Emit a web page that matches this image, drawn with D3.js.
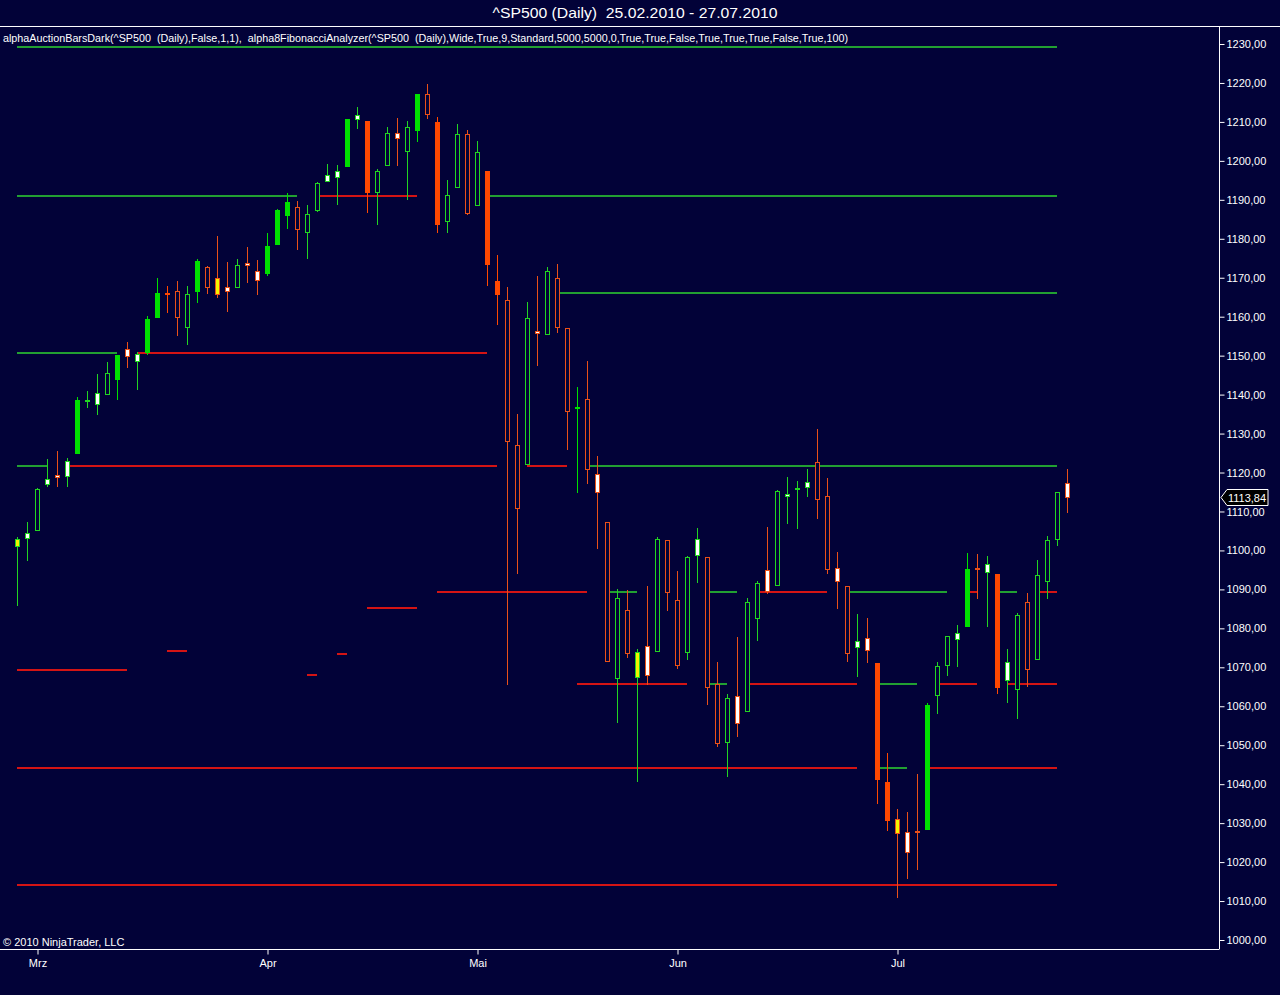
<!DOCTYPE html>
<html><head><meta charset="utf-8">
<script src="https://cdn.jsdelivr.net/npm/d3@7/dist/d3.min.js"></script>
<style>html,body{margin:0;padding:0;background:#020238;}svg{display:block;}text{white-space:pre;}</style>
</head><body>
<svg id="c" width="1280" height="995"></svg>
<script>
// ---------- DATA ----------
const dates = ["2010-02-25","2010-02-26","2010-03-01","2010-03-02","2010-03-03","2010-03-04","2010-03-05","2010-03-08","2010-03-09","2010-03-10","2010-03-11","2010-03-12","2010-03-15","2010-03-16","2010-03-17","2010-03-18","2010-03-19","2010-03-22","2010-03-23","2010-03-24","2010-03-25","2010-03-26","2010-03-29","2010-03-30","2010-03-31","2010-04-01","2010-04-05","2010-04-06","2010-04-07","2010-04-08","2010-04-09","2010-04-12","2010-04-13","2010-04-14","2010-04-15","2010-04-16","2010-04-19","2010-04-20","2010-04-21","2010-04-22","2010-04-23","2010-04-26","2010-04-27","2010-04-28","2010-04-29","2010-04-30","2010-05-03","2010-05-04","2010-05-05","2010-05-06","2010-05-07","2010-05-10","2010-05-11","2010-05-12","2010-05-13","2010-05-14","2010-05-17","2010-05-18","2010-05-19","2010-05-20","2010-05-21","2010-05-24","2010-05-25","2010-05-26","2010-05-27","2010-05-28","2010-06-01","2010-06-02","2010-06-03","2010-06-04","2010-06-07","2010-06-08","2010-06-09","2010-06-10","2010-06-11","2010-06-14","2010-06-15","2010-06-16","2010-06-17","2010-06-18","2010-06-21","2010-06-22","2010-06-23","2010-06-24","2010-06-25","2010-06-28","2010-06-29","2010-06-30","2010-07-01","2010-07-02","2010-07-06","2010-07-07","2010-07-08","2010-07-09","2010-07-12","2010-07-13","2010-07-14","2010-07-15","2010-07-16","2010-07-19","2010-07-20","2010-07-21","2010-07-22","2010-07-23","2010-07-26","2010-07-27"];
const open = [1101.24,1103.10,1105.36,1117.01,1119.36,1119.12,1125.12,1138.40,1137.56,1140.22,1143.96,1151.71,1148.53,1150.83,1159.94,1166.13,1166.68,1157.25,1166.47,1172.70,1170.03,1167.58,1167.71,1173.75,1171.75,1171.23,1178.71,1186.01,1188.23,1181.75,1187.47,1194.94,1195.94,1198.69,1210.77,1210.17,1192.06,1199.04,1207.16,1202.52,1207.87,1217.07,1209.92,1184.59,1193.30,1206.77,1188.58,1197.50,1169.24,1164.38,1127.04,1122.27,1156.39,1155.43,1170.04,1157.19,1136.52,1138.78,1119.57,1107.34,1067.26,1084.78,1067.42,1075.51,1074.27,1102.59,1087.30,1073.89,1098.82,1098.43,1065.84,1050.81,1062.75,1058.77,1082.65,1095.00,1091.21,1114.02,1115.98,1116.16,1122.79,1113.90,1095.57,1090.93,1075.10,1077.50,1071.10,1040.56,1031.10,1027.65,1028.09,1028.54,1062.92,1070.50,1077.23,1080.65,1095.61,1094.46,1093.85,1066.85,1064.53,1086.67,1072.14,1092.17,1102.89,1117.36];
const high = [1103.50,1107.24,1116.11,1123.46,1125.64,1123.73,1139.38,1141.05,1145.37,1148.26,1150.24,1153.41,1150.98,1160.28,1169.84,1167.77,1169.20,1167.82,1174.72,1173.04,1180.69,1173.93,1174.85,1177.83,1174.56,1181.43,1187.73,1191.80,1189.60,1188.55,1194.66,1199.20,1199.04,1210.65,1213.92,1210.17,1197.87,1208.58,1210.99,1210.27,1217.28,1219.80,1211.38,1195.05,1209.36,1207.99,1205.13,1197.50,1175.95,1167.58,1135.13,1163.85,1170.48,1172.87,1173.57,1157.19,1141.88,1148.66,1124.27,1107.34,1090.16,1089.95,1074.75,1090.75,1103.52,1102.59,1094.77,1098.56,1105.67,1098.43,1071.36,1063.15,1077.74,1087.85,1092.25,1105.91,1115.59,1118.74,1117.72,1121.01,1131.23,1118.50,1099.64,1090.93,1083.56,1082.60,1071.10,1048.08,1033.58,1032.95,1042.50,1060.89,1071.25,1078.16,1080.78,1099.46,1099.08,1098.66,1093.85,1074.70,1083.94,1088.96,1097.50,1103.73,1115.01,1120.95];
const low = [1086.02,1097.56,1105.36,1116.51,1116.58,1116.66,1125.12,1136.77,1134.90,1140.09,1138.99,1146.97,1141.45,1150.35,1159.94,1161.16,1155.33,1152.88,1163.83,1166.01,1165.09,1161.48,1167.71,1168.92,1165.77,1170.69,1178.71,1182.77,1177.25,1175.12,1187.15,1194.71,1188.82,1198.69,1208.50,1186.77,1183.68,1199.04,1198.85,1190.19,1205.10,1211.07,1181.62,1181.81,1193.30,1186.32,1188.58,1168.12,1158.15,1065.79,1094.15,1122.27,1147.71,1155.43,1156.14,1126.14,1114.96,1117.20,1100.66,1071.58,1055.90,1072.70,1040.78,1065.59,1074.27,1084.78,1069.89,1072.03,1091.81,1060.50,1049.86,1042.17,1052.25,1058.77,1077.12,1089.03,1091.21,1107.13,1105.87,1113.93,1108.24,1094.18,1085.31,1071.60,1067.89,1071.45,1035.18,1028.33,1010.91,1015.93,1018.35,1028.54,1058.24,1068.10,1070.45,1080.65,1087.68,1080.53,1063.32,1061.11,1056.88,1065.25,1072.14,1087.88,1101.30,1109.78];
const close = [1102.94,1104.49,1115.71,1118.31,1118.79,1122.97,1138.70,1138.50,1140.45,1145.61,1150.24,1149.99,1150.51,1159.46,1166.21,1165.83,1159.90,1165.81,1174.17,1167.72,1165.73,1166.59,1173.22,1173.27,1169.43,1178.10,1187.44,1189.44,1182.45,1186.44,1194.37,1196.48,1197.30,1210.65,1211.67,1192.13,1197.52,1207.17,1205.94,1208.67,1217.28,1212.05,1183.71,1191.36,1206.78,1186.69,1202.26,1173.60,1165.90,1128.15,1110.88,1159.73,1155.79,1171.67,1157.44,1135.68,1136.94,1120.80,1115.05,1071.59,1087.69,1073.65,1074.03,1067.95,1103.06,1089.41,1070.71,1098.38,1102.83,1064.88,1050.47,1062.00,1055.69,1086.84,1091.60,1089.63,1115.23,1114.61,1116.04,1117.51,1113.20,1095.31,1092.04,1073.69,1076.76,1074.57,1041.24,1030.71,1027.37,1022.58,1028.06,1060.27,1070.25,1077.96,1078.75,1095.34,1095.17,1096.48,1064.88,1071.25,1083.48,1069.59,1093.67,1102.66,1115.01,1113.84];
// bar paint type from the auction-bar indicator: S solid, H hollow, W white, Y yellow
const barType = "YWHWWWSWWHSWWSSSHHSHYWHWWSSSHHHWWSWSHHWHSHSHHHHSSHHHWHHHSHWHHHYWHHHHWHHHWHHWHWWWHHWHWWSSYWWSHHWSWWSWHHHHHW".split("");
const monthLabels = ["Mrz","Apr","Mai","Jun","Jul"];
const yTicks = d3.range(1000, 1231, 10);
const lastPrice = 1113.84;
// Fibonacci analyzer level segments: value, first bar, last bar, colour key
const fibValue = [1229.2,1191.0,1191.0,1191.0,1166.1,1150.7,1150.7,1121.7,1121.7,1121.7,1121.7,1089.3,1089.3,1089.3,1089.3,1089.3,1089.3,1089.3,1089.3,1085.2,1074.1,1073.5,1069.2,1067.9,1065.7,1065.7,1065.7,1065.7,1065.7,1065.7,1044.2,1044.2,1044.2,1014.1];
const fibFrom  = [0,0,30,47,54,0,12,0,5,51,57,42,59,69,74,83,95,98,102,35,15,32,0,29,56,69,73,86,92,99,0,86,91,0];
const fibTo    = [104,28,40,104,104,10,47,3,48,55,104,57,62,72,81,93,96,100,104,40,17,33,11,30,67,71,84,90,96,104,84,89,104,104];
const fibKind  = ["g","g","r","g","g","g","r","g","r","r","g","r","g","g","r","g","r","g","r","r","r","r","r","r","r","g","r","g","r","r","r","g","r","r"];
const title = "^SP500 (Daily)  25.02.2010 - 27.07.2010";
const indicatorText = "alphaAuctionBarsDark(^SP500  (Daily),False,1,1),  alpha8FibonacciAnalyzer(^SP500  (Daily),Wide,True,9,Standard,5000,5000,0,True,True,False,True,True,True,False,True,100)";
const copyright = "© 2010 NinjaTrader, LLC";

// ---------- STYLE ----------
const BG = "#020238";
const GREEN_LINE = "#22d422", GREEN_SOLID = "#00e000";
const ORANGE_LINE = "#ea5018", ORANGE_SOLID = "#ff4800";
const FIB_G = "#22a032", FIB_R = "#d41414";
const FONT = "'Liberation Sans', Arial, sans-serif";

const svg = d3.select("#c");
svg.append("rect").attr("width",1280).attr("height",995).attr("fill",BG);

const x = d3.scaleLinear().domain([0, dates.length - 1]).range([17, 17 + 10 * (dates.length - 1)]);
const y = d3.scaleLinear().domain([1000, 1230]).range([940, 44]);
const px = i => Math.round(x(i));
const py = v => Math.round(y(v));

// title & separator
svg.append("text").attr("x",635).attr("y",18).attr("text-anchor","middle")
  .attr("fill","#ffffff").attr("font-family",FONT).attr("font-size",15)
  .attr("textLength",285).attr("lengthAdjust","spacingAndGlyphs").text(title);
svg.append("line").attr("x1",0).attr("x2",1280).attr("y1",26.5).attr("y2",26.5).attr("stroke","#ffffff").attr("stroke-width",1);
svg.append("text").attr("x",3).attr("y",42).attr("fill","#ffffff").attr("font-family",FONT).attr("font-size",11)
  .attr("textLength",845).attr("lengthAdjust","spacingAndGlyphs").text(indicatorText);

// fib levels
const segs = fibValue.map((v,i)=>({v, a:fibFrom[i], b:fibTo[i], k:fibKind[i]}));
svg.append("g").selectAll("line").data(segs).join("line")
  .attr("x1",d=>px(d.a)).attr("x2",d=>px(d.b))
  .attr("y1",d=>py(d.v)).attr("y2",d=>py(d.v))
  .attr("stroke",d=>d.k==="g"?FIB_G:FIB_R).attr("stroke-width",2);

// candles
const bars = dates.map((d,i)=>({i, o:open[i], h:high[i], l:low[i], c:close[i], t:barType[i]}));
const cg = svg.append("g");
const edgeCol = d => d.t==="S" ? (d.c>=d.o?GREEN_SOLID:ORANGE_SOLID) : (d.c>=d.o?GREEN_LINE:ORANGE_LINE);
cg.selectAll("line.w").data(bars).join("line").attr("class","w")
  .attr("x1",d=>px(d.i)+0.5).attr("x2",d=>px(d.i)+0.5)
  .attr("y1",d=>py(d.h)).attr("y2",d=>py(d.l)+1)
  .attr("stroke",edgeCol).attr("stroke-width",1);
cg.selectAll("rect").data(bars).join("rect")
  .attr("x",d=>px(d.i)-1.5).attr("width",4)
  .attr("y",d=>py(Math.max(d.o,d.c))+0.5)
  .attr("height",d=>Math.max(1, py(Math.min(d.o,d.c)) - py(Math.max(d.o,d.c))))
  .attr("fill",d=>{
    const up = d.c>=d.o;
    if (d.t==="S") return up?GREEN_SOLID:ORANGE_SOLID;
    if (d.t==="W") return "#ffffff";
    if (d.t==="Y") return "#f4f400";
    return BG;
  })
  .attr("stroke",edgeCol).attr("stroke-width",1);

// right axis
const yAxis = d3.axisRight(y).tickValues(yTicks).tickSize(5).tickPadding(2)
  .tickFormat(v => d3.format(".2f")(v).replace(".", ","));
const ya = svg.append("g").attr("transform","translate(1219.5,0)").call(yAxis);
ya.select(".domain").attr("d","M0,27V949").attr("stroke","#ffffff");
ya.selectAll(".tick line").attr("stroke","#ffffff");
ya.selectAll(".tick text").attr("fill","#ffffff").attr("font-family",FONT).attr("font-size",11);

// bottom axis
const monthIdx = [];
dates.forEach((d,i)=>{ if (i>0 && d.slice(5,7)!==dates[i-1].slice(5,7)) monthIdx.push(i); });
const xAxis = d3.axisBottom(x).tickValues(monthIdx).tickSize(5).tickPadding(5)
  .tickFormat((v,k)=>monthLabels[k]);
const xa = svg.append("g").attr("transform","translate(0.5,949.5)").call(xAxis);
xa.select(".domain").attr("d","M-1,0H1219").attr("stroke","#ffffff");
xa.selectAll(".tick line").attr("stroke","#ffffff");
xa.selectAll(".tick text").attr("fill","#ffffff").attr("font-family",FONT).attr("font-size",11);

svg.append("text").attr("x",3).attr("y",946).attr("fill","#ffffff").attr("font-family",FONT).attr("font-size",11).text(copyright);

// last price marker
const ly = Math.round(y(lastPrice)) + 0.5;
svg.append("path").attr("d",`M1221,${ly}L1227,${ly-8}H1268V${ly+8}H1227Z`)
  .attr("fill","#000000").attr("stroke","#ffffff").attr("stroke-width",1);
svg.append("text").attr("x",1247).attr("y",ly+4).attr("text-anchor","middle").attr("fill","#ffffff")
  .attr("font-family",FONT).attr("font-size",11).text(d3.format(".2f")(lastPrice).replace(".",","));
</script>
</body></html>
